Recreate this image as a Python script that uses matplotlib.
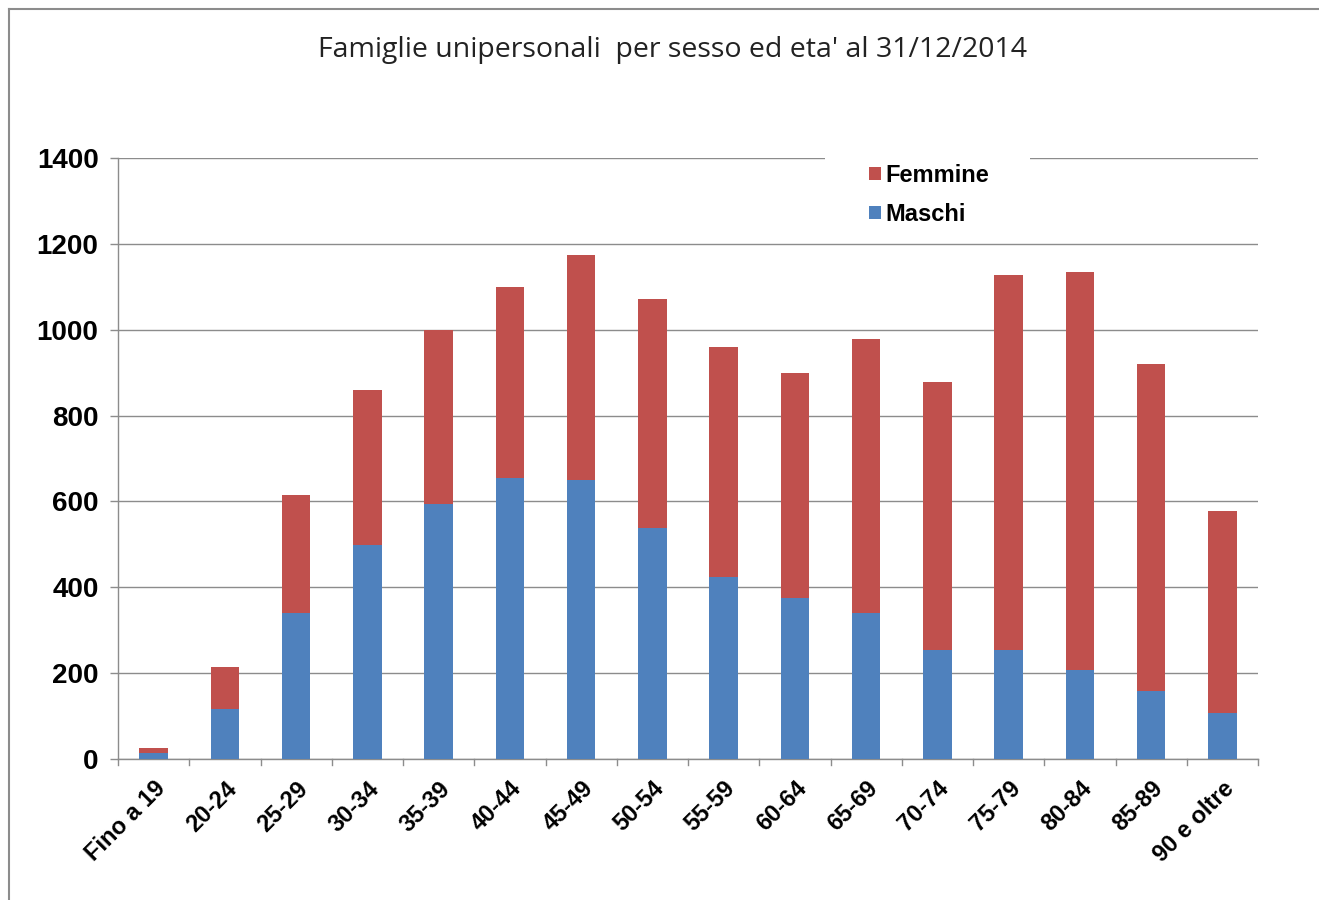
import matplotlib
matplotlib.use("Agg")
import matplotlib.pyplot as plt
import numpy as np
from matplotlib.lines import Line2D
from matplotlib.patches import Patch, Rectangle

categories = ["Fino a 19", "20-24", "25-29", "30-34", "35-39", "40-44", "45-49",
              "50-54", "55-59", "60-64", "65-69", "70-74", "75-79", "80-84",
              "85-89", "90 e oltre"]
maschi = [13, 116, 340, 498, 594, 655, 650, 538, 424, 375, 340, 254, 254, 207, 158, 107]
totale = [26, 214, 615, 860, 999, 1099, 1174, 1072, 960, 899, 978, 878, 1127, 1134, 920, 578]
femmine = [t - m for t, m in zip(totale, maschi)]
yticks = [0, 200, 400, 600, 800, 1000, 1200, 1400]

BLUE = "#4F81BD"
RED = "#C0504D"
GRID = "#8C8C8C"

fig = plt.figure(figsize=(13.19, 9.0), dpi=100)
W, H = 1319, 900
ax = fig.add_axes([118 / W, (H - 759) / H, (1258 - 118) / W, (759 - 158) / H])

x = np.arange(len(categories))
bw = 0.40
ax.bar(x, maschi, width=bw, color=BLUE, zorder=3, label="Maschi")
ax.bar(x, femmine, width=bw, bottom=maschi, color=RED, zorder=3, label="Femmine")

ax.set_xlim(-0.5, len(categories) - 0.5)
ax.set_ylim(0, 1400)
ax.set_yticks(yticks)
ax.set_yticklabels([str(v) for v in yticks], fontsize=20, fontweight="bold",
                   family="Liberation Sans")
ax.yaxis.grid(True, color=GRID, linewidth=1.0, zorder=0)
ax.tick_params(axis="y", length=6, color=GRID, width=1.0, pad=8, direction="out")

ax.set_xticks(x)
ax.set_xticklabels(categories, rotation=45, ha="right", rotation_mode="anchor",
                   fontsize=17, fontweight="bold", family="Liberation Sans")
ax.tick_params(axis="x", length=0, pad=13)
# boundary tick marks (category boundaries)
for b in np.arange(-0.5, len(categories) + 0.5, 1.0):
    ax.plot([b, b], [0, -14], color=GRID, lw=1.0, clip_on=False, zorder=1)
ax.set_ylim(0, 1400)

for s in ["top", "right"]:
    ax.spines[s].set_visible(False)
for s in ["left", "bottom"]:
    ax.spines[s].set_color(GRID)
    ax.spines[s].set_linewidth(1.0)

# white legend area covering the top gridline
fig.add_artist(Rectangle((825 / W, 1 - 235 / H), (1030 - 825) / W, (235 - 150) / H,
                         transform=fig.transFigure, facecolor="white",
                         edgecolor="none", zorder=5))

handles = [Patch(facecolor=RED, label="Femmine"), Patch(facecolor=BLUE, label="Maschi")]
leg = fig.legend(handles=handles, loc="upper left",
                 bbox_to_anchor=(864 / W, 1 - 159 / H),
                 prop={"family": "Liberation Sans", "weight": "bold", "size": 17},
                 frameon=False, handlelength=0.5, handleheight=0.5,
                 handletextpad=0.2, labelspacing=0.68, borderpad=0.2,
                 borderaxespad=0)
leg.set_zorder(10)

fig.text(673 / W, 1 - 50 / H, "Famiglie unipersonali  per sesso ed eta' al 31/12/2014",
         ha="center", va="center", fontsize=20.5, family="Open Sans", color="#222222")

# outer frame (top and left edges visible)
fig.add_artist(Line2D([9 / W, 1.0], [1 - 9 / H, 1 - 9 / H], color="#8C8C8C", lw=1.5,
                      transform=fig.transFigure))
fig.add_artist(Line2D([9 / W, 9 / W], [1 - 9 / H, 0.0], color="#8C8C8C", lw=1.5,
                      transform=fig.transFigure))

fig.savefig("out.png", dpi=100, facecolor="white")
